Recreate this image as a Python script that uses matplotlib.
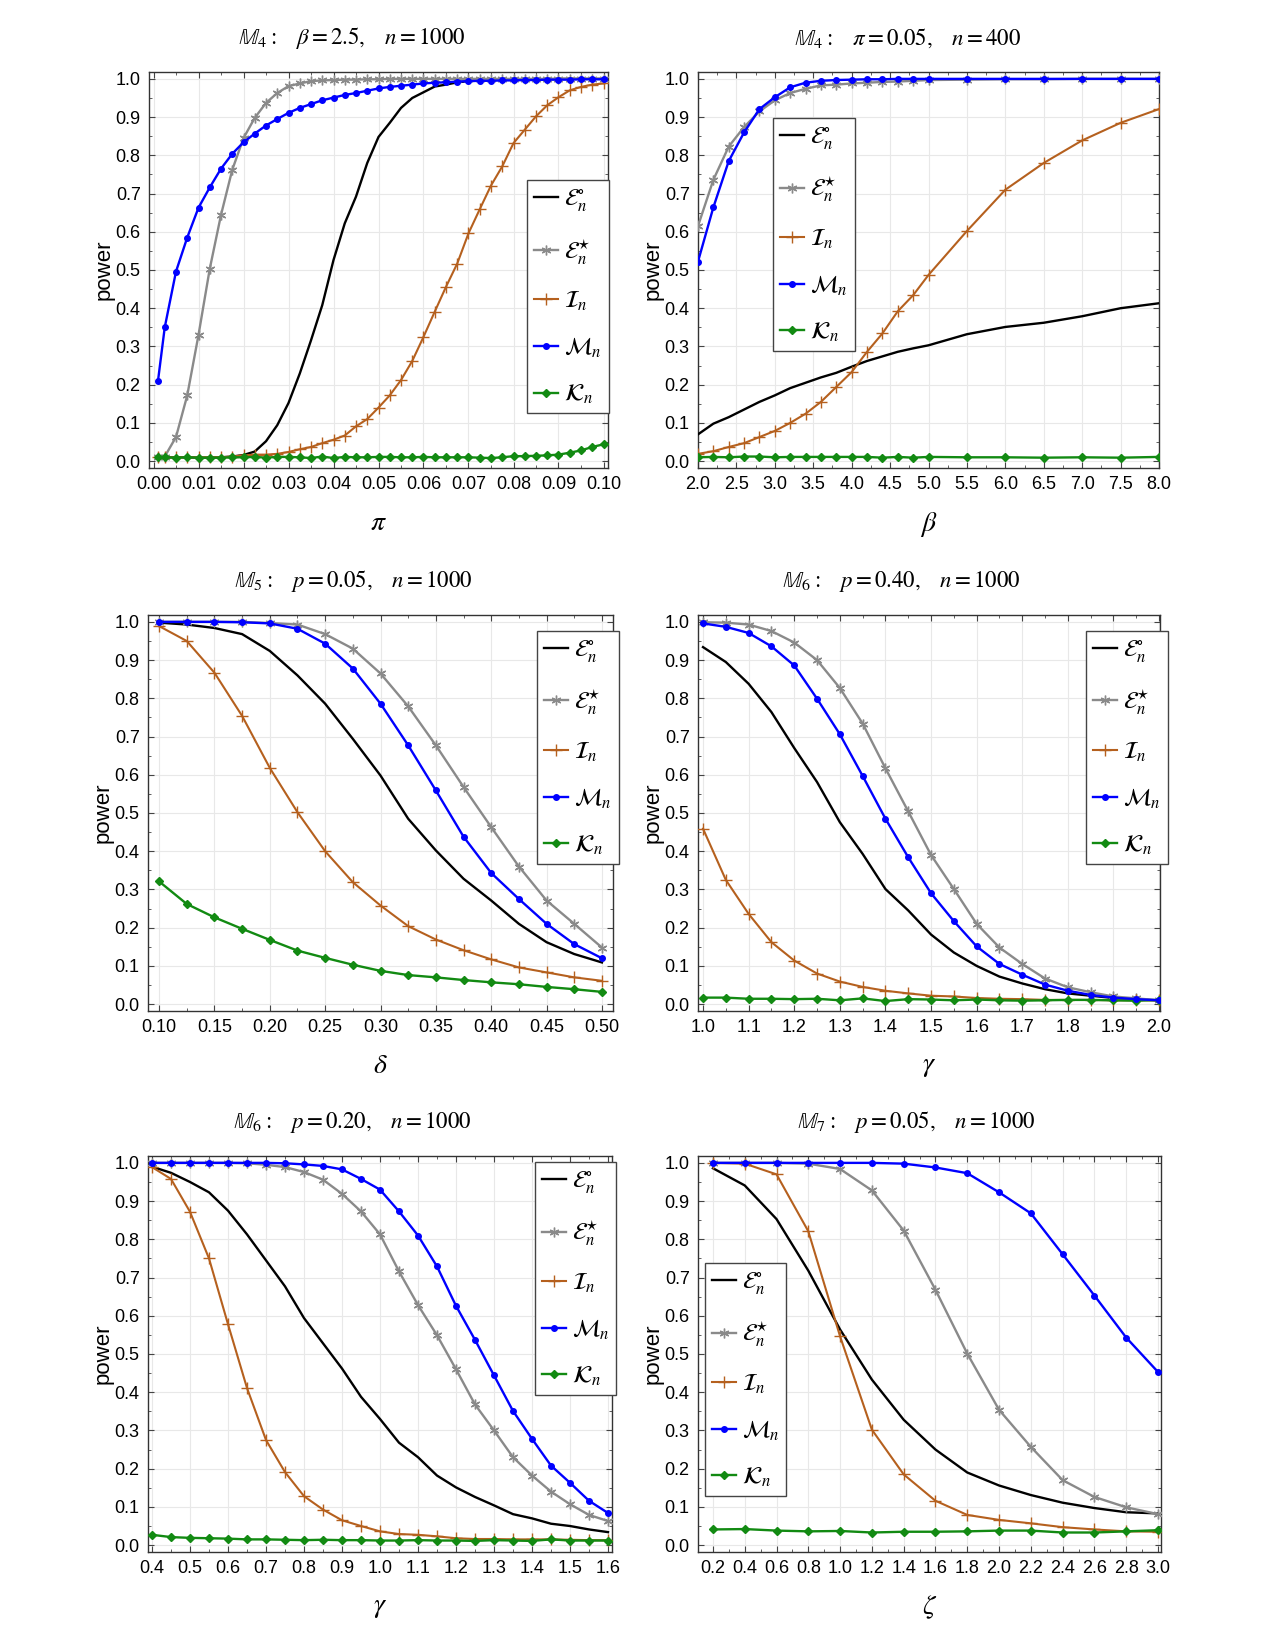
import numpy as np
import matplotlib
matplotlib.use("Agg")
import matplotlib.pyplot as plt
from matplotlib.ticker import FixedLocator, FormatStrFormatter, AutoMinorLocator

plt.rcParams['mathtext.fontset'] = 'stix'
plt.rcParams['font.family'] = ['Liberation Sans', 'DejaVu Sans']

# ---------------- data ----------------
# panel 1: M4, beta=2.5, n=1000, x = pi
pi_vals = [0.001, 0.0025, 0.005, 0.0075, 0.01, 0.0125, 0.015, 0.0175, 0.02, 0.0225,
           0.025, 0.0275, 0.03, 0.0325, 0.035, 0.0375, 0.04, 0.0425, 0.045, 0.0475,
           0.05, 0.0525, 0.055, 0.0575, 0.06, 0.0625, 0.065, 0.0675, 0.07, 0.0725,
           0.075, 0.0775, 0.08, 0.0825, 0.085, 0.0875, 0.09, 0.0925, 0.095, 0.0975, 0.1]
p1_E0 = [0.010, 0.010, 0.010, 0.010, 0.009, 0.009, 0.010, 0.012, 0.016, 0.025,
         0.052, 0.094, 0.152, 0.229, 0.316, 0.408, 0.526, 0.622, 0.692, 0.780,
         0.848, 0.885, 0.924, 0.950, 0.965, 0.980, 0.985, 0.991, 0.994, 0.996,
         0.997, 0.998, 0.998, 0.999, 0.999, 0.999, 1.000, 1.000, 1.000, 1.000, 1.000]
p1_Es = [0.010, 0.012, 0.063, 0.172, 0.330, 0.503, 0.644, 0.762, 0.845, 0.898,
         0.937, 0.963, 0.981, 0.988, 0.994, 0.996, 0.997, 0.998, 0.998, 0.999,
         0.999, 1.000, 1.000, 1.000, 1.000, 1.000, 1.000, 1.000, 1.000, 1.000,
         1.000, 1.000, 1.000, 1.000, 1.000, 1.000, 1.000, 1.000, 1.000, 1.000, 1.000]
p1_I = [0.010, 0.010, 0.010, 0.010, 0.010, 0.010, 0.010, 0.012, 0.015, 0.017,
        0.017, 0.019, 0.024, 0.031, 0.037, 0.047, 0.056, 0.067, 0.091, 0.110,
        0.140, 0.172, 0.212, 0.262, 0.325, 0.391, 0.456, 0.517, 0.596, 0.659,
        0.721, 0.771, 0.832, 0.867, 0.902, 0.931, 0.952, 0.970, 0.979, 0.985, 0.988]
p1_M = [0.210, 0.350, 0.496, 0.585, 0.663, 0.716, 0.765, 0.804, 0.834, 0.857,
        0.878, 0.895, 0.911, 0.924, 0.934, 0.944, 0.951, 0.958, 0.963, 0.969,
        0.975, 0.979, 0.982, 0.985, 0.988, 0.990, 0.991, 0.993, 0.994, 0.995,
        0.995, 0.996, 0.996, 0.997, 0.997, 0.998, 0.998, 0.998, 0.999, 0.999, 0.999]
p1_K = [0.010, 0.010, 0.009, 0.010, 0.009, 0.009, 0.009, 0.010, 0.010, 0.011,
        0.009, 0.011, 0.011, 0.010, 0.008, 0.012, 0.008, 0.011, 0.010, 0.010,
        0.011, 0.011, 0.010, 0.010, 0.011, 0.010, 0.010, 0.010, 0.010, 0.009,
        0.008, 0.010, 0.013, 0.013, 0.014, 0.015, 0.017, 0.022, 0.028, 0.037, 0.044]

# panel 2: M4, pi=0.05, n=400, x = beta
beta_vals = [2.0, 2.2, 2.4, 2.6, 2.8, 3.0, 3.2, 3.4, 3.6, 3.8, 4.0, 4.2, 4.4, 4.6, 4.8,
             5.0, 5.5, 6.0, 6.5, 7.0, 7.5, 8.0]
p2_E0 = [0.070, 0.098, 0.115, 0.135, 0.155, 0.172, 0.191, 0.205, 0.219, 0.231, 0.247,
         0.262, 0.274, 0.286, 0.295, 0.303, 0.332, 0.351, 0.362, 0.379, 0.400, 0.413]
p2_Es = [0.615, 0.736, 0.823, 0.874, 0.915, 0.944, 0.963, 0.974, 0.983, 0.985, 0.988,
         0.990, 0.992, 0.993, 0.995, 0.997, 0.998, 0.999, 0.999, 1.000, 1.000, 1.000]
p2_I = [0.019, 0.026, 0.037, 0.047, 0.063, 0.079, 0.100, 0.124, 0.155, 0.194, 0.233,
        0.286, 0.334, 0.392, 0.434, 0.487, 0.602, 0.710, 0.780, 0.839, 0.885, 0.921]
p2_M = [0.522, 0.664, 0.785, 0.860, 0.921, 0.952, 0.978, 0.990, 0.995, 0.997, 0.998,
        0.999, 0.999, 1.000, 1.000, 1.000, 1.000, 1.000, 1.000, 1.000, 1.000, 1.000]
p2_K = [0.010, 0.011, 0.010, 0.012, 0.012, 0.010, 0.011, 0.011, 0.011, 0.011, 0.011,
        0.011, 0.009, 0.011, 0.009, 0.011, 0.010, 0.010, 0.009, 0.010, 0.009, 0.011]

# panel 3: M5, p=0.05, n=1000, x = delta
delta_vals = [0.100, 0.125, 0.150, 0.175, 0.200, 0.225, 0.250, 0.275, 0.300, 0.325,
              0.350, 0.375, 0.400, 0.425, 0.450, 0.475, 0.500]
p3_E0 = [0.998, 0.993, 0.984, 0.968, 0.924, 0.860, 0.786, 0.694, 0.598, 0.485,
         0.402, 0.328, 0.271, 0.210, 0.162, 0.131, 0.109]
p3_Es = [1.000, 1.000, 1.000, 1.000, 0.997, 0.993, 0.968, 0.930, 0.865, 0.779,
         0.677, 0.568, 0.463, 0.360, 0.271, 0.210, 0.148]
p3_I = [0.989, 0.950, 0.867, 0.754, 0.618, 0.502, 0.400, 0.319, 0.258, 0.204,
        0.169, 0.141, 0.117, 0.096, 0.083, 0.070, 0.061]
p3_M = [1.000, 1.000, 1.000, 0.999, 0.996, 0.982, 0.943, 0.878, 0.786, 0.677,
        0.559, 0.438, 0.343, 0.275, 0.210, 0.157, 0.120]
p3_K = [0.321, 0.262, 0.227, 0.197, 0.168, 0.140, 0.121, 0.103, 0.087, 0.076,
        0.070, 0.063, 0.057, 0.052, 0.045, 0.039, 0.032]

# panel 4: M6, p=0.40, n=1000, x = gamma
gamma_a = [1.00, 1.05, 1.10, 1.15, 1.20, 1.25, 1.30, 1.35, 1.40, 1.45, 1.50,
           1.55, 1.60, 1.65, 1.70, 1.75, 1.80, 1.85, 1.90, 1.95, 2.00]
p4_E0 = [0.934, 0.895, 0.838, 0.764, 0.670, 0.581, 0.476, 0.393, 0.301, 0.245, 0.182,
         0.135, 0.100, 0.072, 0.054, 0.039, 0.028, 0.022, 0.016, 0.012, 0.010]
p4_Es = [0.999, 0.998, 0.993, 0.976, 0.946, 0.900, 0.827, 0.734, 0.617, 0.504, 0.390,
         0.301, 0.210, 0.148, 0.105, 0.067, 0.044, 0.031, 0.020, 0.015, 0.010]
p4_I = [0.459, 0.325, 0.236, 0.162, 0.114, 0.080, 0.059, 0.045, 0.035, 0.028, 0.022,
        0.020, 0.016, 0.014, 0.013, 0.011, 0.011, 0.011, 0.010, 0.010, 0.010]
p4_M = [0.996, 0.987, 0.971, 0.936, 0.886, 0.799, 0.706, 0.597, 0.485, 0.384, 0.290,
        0.217, 0.151, 0.105, 0.077, 0.051, 0.035, 0.024, 0.017, 0.013, 0.010]
p4_K = [0.017, 0.017, 0.014, 0.014, 0.013, 0.014, 0.010, 0.015, 0.008, 0.013, 0.012,
        0.010, 0.012, 0.010, 0.009, 0.010, 0.011, 0.011, 0.010, 0.009, 0.011]

# panel 5: M6, p=0.20, n=1000, x = gamma
gamma_b = [0.40, 0.45, 0.50, 0.55, 0.60, 0.65, 0.70, 0.75, 0.80, 0.85, 0.90, 0.95, 1.00,
           1.05, 1.10, 1.15, 1.20, 1.25, 1.30, 1.35, 1.40, 1.45, 1.50, 1.55, 1.60]
p5_E0 = [0.990, 0.974, 0.950, 0.923, 0.875, 0.813, 0.745, 0.677, 0.594, 0.528, 0.462,
         0.388, 0.330, 0.268, 0.230, 0.182, 0.151, 0.126, 0.104, 0.081, 0.070, 0.056,
         0.050, 0.041, 0.034]
p5_Es = [1.000, 1.000, 1.000, 1.000, 1.000, 0.999, 0.995, 0.989, 0.976, 0.956, 0.919,
         0.873, 0.813, 0.716, 0.628, 0.549, 0.460, 0.368, 0.300, 0.230, 0.182, 0.140,
         0.107, 0.079, 0.063]
p5_I = [0.989, 0.958, 0.872, 0.750, 0.578, 0.411, 0.275, 0.191, 0.128, 0.093, 0.065,
        0.050, 0.036, 0.029, 0.027, 0.023, 0.018, 0.016, 0.016, 0.015, 0.015, 0.015,
        0.014, 0.013, 0.013]
p5_M = [1.000, 1.000, 1.000, 1.000, 1.000, 1.000, 1.000, 0.999, 0.996, 0.992, 0.983,
        0.958, 0.930, 0.873, 0.810, 0.729, 0.626, 0.537, 0.444, 0.351, 0.278, 0.208,
        0.163, 0.116, 0.084]
p5_K = [0.027, 0.021, 0.019, 0.018, 0.017, 0.015, 0.015, 0.014, 0.013, 0.014, 0.013,
        0.013, 0.012, 0.012, 0.013, 0.012, 0.012, 0.011, 0.013, 0.012, 0.011, 0.015,
        0.012, 0.012, 0.012]

# panel 6: M7, p=0.05, n=1000, x = zeta
zeta_vals = [0.2, 0.4, 0.6, 0.8, 1.0, 1.2, 1.4, 1.6, 1.8, 2.0, 2.2, 2.4, 2.6, 2.8, 3.0]
p6_E0 = [0.986, 0.941, 0.853, 0.718, 0.564, 0.433, 0.328, 0.250, 0.190, 0.156, 0.131,
         0.111, 0.097, 0.086, 0.083]
p6_Es = [1.000, 1.000, 1.000, 0.998, 0.984, 0.928, 0.823, 0.668, 0.501, 0.354, 0.257,
         0.170, 0.126, 0.099, 0.081]
p6_I = [1.000, 0.998, 0.970, 0.821, 0.546, 0.302, 0.185, 0.116, 0.079, 0.066, 0.057,
        0.047, 0.041, 0.036, 0.035]
p6_M = [1.000, 1.000, 1.000, 1.000, 1.000, 1.000, 0.998, 0.988, 0.973, 0.923, 0.868,
        0.761, 0.653, 0.543, 0.453]
p6_K = [0.041, 0.042, 0.038, 0.036, 0.037, 0.033, 0.035, 0.035, 0.036, 0.038, 0.038,
        0.033, 0.033, 0.036, 0.039]

labels = [r'$\mathcal{E}_n^{\circ}$', r'$\mathcal{E}_n^{\star}$', r'$\mathcal{I}_n$',
          r'$\mathcal{M}_n$', r'$\mathcal{K}_n$']

# ---------------- drawing ----------------
W, H = 1275, 1650
fig = plt.figure(figsize=(W / 100, H / 100), dpi=100)


def add_ax(x0, x1, y0, y1):
    # pixel box (top-left origin) -> figure fraction
    return fig.add_axes([x0 / W, 1 - y1 / H, (x1 - x0) / W, (y1 - y0) / H])


def panel(ax, x, series, title, xlabel, xlim, xticks, xfmt, leg_xy, title_x=0.441):
    E0, Es, I, M, K = series
    ax.plot(x, E0, color='black', lw=1.7, label=labels[0], zorder=3)
    ax.plot(x, Es, color='#8a8a8a', lw=1.7, marker=(6, 2, 0), ms=7, mew=1.0,
            label=labels[1], zorder=3)
    ax.plot(x, I, color='#b5601e', lw=1.5, marker='+', ms=8, mew=1.0,
            label=labels[2], zorder=3)
    ax.plot(x, M, color='#0000ff', lw=1.7, marker='o', ms=4, label=labels[3], zorder=4)
    ax.plot(x, K, color='#128a12', lw=1.7, marker='D', ms=4, label=labels[4], zorder=3)

    ax.set_xlim(*xlim)
    ax.set_ylim(-0.018, 1.018)
    ax.xaxis.set_major_locator(FixedLocator(xticks))
    ax.xaxis.set_major_formatter(FormatStrFormatter(xfmt))
    ax.yaxis.set_major_locator(FixedLocator(np.arange(0, 1.01, 0.1)))
    ax.yaxis.set_major_formatter(FormatStrFormatter('%.1f'))
    ax.xaxis.set_minor_locator(AutoMinorLocator(2))
    ax.yaxis.set_minor_locator(AutoMinorLocator(2))
    ax.tick_params(which='both', direction='in', top=True, right=True,
                   color='#444444', labelsize=13)
    ax.tick_params(which='major', length=4, width=0.8, pad=6)
    ax.tick_params(which='minor', length=2.5, width=0.6)
    ax.grid(True, which='major', color='#e8e8e8', lw=0.8)
    ax.set_axisbelow(True)
    for s in ax.spines.values():
        s.set_color('#333333')
        s.set_linewidth(1.0)

    ax.set_ylabel('power', fontsize=16)
    ax.yaxis.set_label_coords(-0.075, 0.5)
    ax.set_xlabel(xlabel, fontsize=20)
    ax.xaxis.set_label_coords(0.5, -0.105)
    ax.text(title_x, 1.085, title, transform=ax.transAxes, ha='center', va='center',
            fontsize=16.5)

    leg = ax.legend(loc='upper left', bbox_to_anchor=leg_xy, borderaxespad=0,
                    fontsize=17, frameon=True, fancybox=False, framealpha=1,
                    edgecolor='#444444', handlelength=1.0, handletextpad=0.25,
                    labelspacing=0.97, borderpad=0.3)
    leg.get_frame().set_linewidth(1.0)


ax1 = add_ax(149, 608, 72, 468)
panel(ax1, pi_vals, [p1_E0, p1_Es, p1_I, p1_M, p1_K],
      r'$\mathbb{M}_4:\quad \beta = 2.5,\quad n = 1000$', r'$\pi$',
      (-0.001, 0.101), np.arange(0, 0.1001, 0.01), '%.2f', (0.824, 0.727))

ax2 = add_ax(698, 1159, 72, 468)
panel(ax2, beta_vals, [p2_E0, p2_Es, p2_I, p2_M, p2_K],
      r'$\mathbb{M}_4:\quad \pi = 0.05,\quad n = 400$', r'$\beta$',
      (2.0, 8.0), np.arange(2.0, 8.01, 0.5), '%.1f', (0.163, 0.884), title_x=0.455)

ax3 = add_ax(148, 613, 615, 1011)
panel(ax3, delta_vals, [p3_E0, p3_Es, p3_I, p3_M, p3_K],
      r'$\mathbb{M}_5:\quad p = 0.05,\quad n = 1000$', r'$\delta$',
      (0.09, 0.51), np.arange(0.1, 0.501, 0.05), '%.2f', (0.837, 0.96))

ax4 = add_ax(698, 1160, 615, 1011)
panel(ax4, gamma_a, [p4_E0, p4_Es, p4_I, p4_M, p4_K],
      r'$\mathbb{M}_6:\quad p = 0.40,\quad n = 1000$', r'$\gamma$',
      (0.989, 2.002), np.arange(1.0, 2.001, 0.1), '%.1f', (0.84, 0.96))

ax5 = add_ax(148, 612, 1156, 1552)
panel(ax5, gamma_b, [p5_E0, p5_Es, p5_I, p5_M, p5_K],
      r'$\mathbb{M}_6:\quad p = 0.20,\quad n = 1000$', r'$\gamma$',
      (0.3895, 1.6105), np.arange(0.4, 1.601, 0.1), '%.1f', (0.834, 0.985))

ax6 = add_ax(698, 1161, 1156, 1552)
panel(ax6, zeta_vals, [p6_E0, p6_Es, p6_I, p6_M, p6_K],
      r'$\mathbb{M}_7:\quad p = 0.05,\quad n = 1000$', r'$\zeta$',
      (0.106, 3.019), np.arange(0.2, 3.001, 0.2), '%.1f', (0.015, 0.73), title_x=0.472)

fig.savefig('out.png', dpi=100)
